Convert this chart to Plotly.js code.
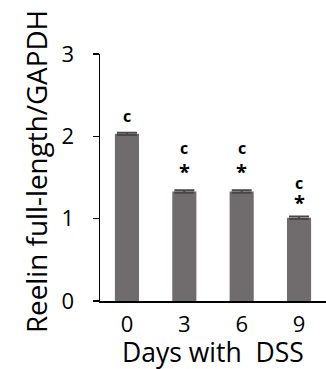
<!DOCTYPE html>
<html>
<head>
<meta charset="utf-8">
<script src="https://cdn.plot.ly/plotly-3.0.1.min.js"></script>
<style>
html,body{margin:0;padding:0;background:#fff;}
#chart{width:326px;height:369px;}
</style>
</head>
<body>
<div id="chart"></div>
<script>
// Data
const days = ['0', '3', '6', '9'];
const reelinRatio = [2.03, 1.33, 1.33, 1.01];
const reelinErr = [0.015, 0.015, 0.015, 0.015];
const letterLabels = ['c', 'c', 'c', 'c'];
const starLabels = ['', '*', '*', '*'];
const letterY = [2.22, 1.83, 1.83, 1.405];
const starY = [null, 1.56, 1.56, 1.19];
const xTitle = 'Days with  DSS';
const yTitle = 'Reelin full-length/GAPDH';

const FONT = 'Open Sans, sans-serif';

const trace = {
  type: 'bar',
  x: days,
  y: reelinRatio,
  width: 0.42,
  marker: {color: '#706b6c', line: {width: 0}},
  error_y: {type: 'data', array: reelinErr, visible: true, color: '#4a4646', thickness: 2, width: 10},
  hoverinfo: 'x+y'
};

const annotations = [];
days.forEach((d, i) => {
  annotations.push({
    x: i, y: letterY[i], xref: 'x', yref: 'y', text: letterLabels[i],
    showarrow: false, yanchor: 'middle', yshift: 2,
    font: {family: FONT, size: 16, color: '#000', weight: 'bold'}
  });
  if (starLabels[i]) {
    annotations.push({
      x: i, y: starY[i], xref: 'x', yref: 'y', text: starLabels[i],
      showarrow: false, yanchor: 'middle', yshift: 1,
      font: {family: FONT, size: 20, color: '#000', weight: 'bold'}
    });
  }
});

// axis titles placed as annotations for exact positioning
annotations.push({
  xref: 'paper', yref: 'paper', x: 0.5, y: 0, xanchor: 'center', yanchor: 'top',
  yshift: -31, showarrow: false, text: xTitle,
  font: {family: FONT, size: 26.5, color: '#000'}
});
annotations.push({
  xref: 'paper', yref: 'paper', x: 0, y: 0.522, xanchor: 'center', yanchor: 'middle',
  xshift: -64, showarrow: false, textangle: -90, text: yTitle,
  font: {family: FONT, size: 27.8, color: '#000'}
});

const layout = {
  width: 326,
  height: 369,
  margin: {l: 100, r: 0, t: 54, b: 68, pad: 0},
  paper_bgcolor: '#fff',
  plot_bgcolor: '#fff',
  showlegend: false,
  font: {family: FONT, color: '#000'},
  xaxis: {
    type: 'category',
    range: [-0.47, 3.47],
    showline: true, linecolor: '#000', linewidth: 1.5,
    ticks: '', showgrid: false, zeroline: false,
    tickfont: {family: FONT, size: 22, color: '#000'},
    ticklabelstandoff: 3,
    fixedrange: true
  },
  yaxis: {
    range: [0, 3],
    tickvals: [0, 1, 2, 3],
    ticktext: ['0', '1', '2', '3'],
    showline: true, linecolor: '#000', linewidth: 1.5,
    ticks: 'outside', ticklen: 6, tickwidth: 1.5, tickcolor: '#000',
    showgrid: false, zeroline: false,
    tickfont: {family: FONT, size: 22, color: '#000'},
    ticklabelstandoff: 14,
    fixedrange: true
  },
  annotations: annotations
};

Plotly.newPlot('chart', [trace], layout, {displayModeBar: false, staticPlot: true});
</script>
</body>
</html>
